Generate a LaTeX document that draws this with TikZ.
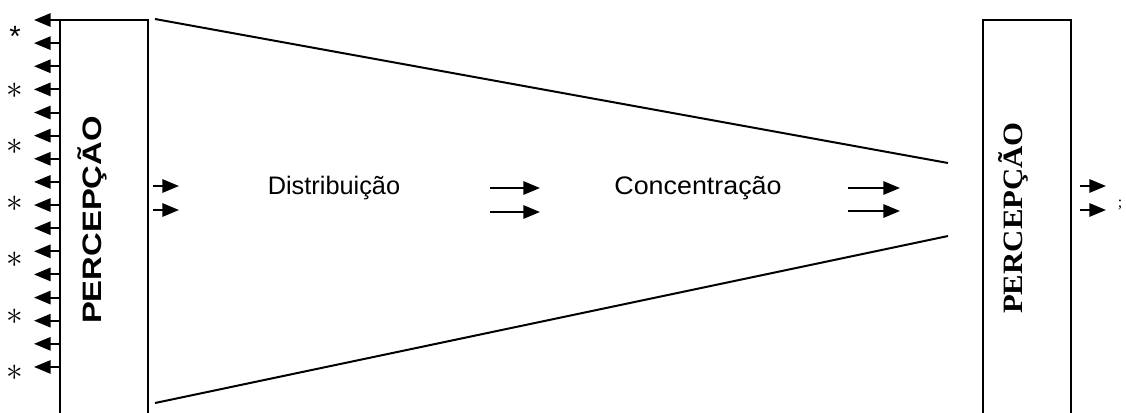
\documentclass[tikz,border=0pt]{standalone}
\usepackage{fontspec}
\setmainfont{Liberation Sans}
\newfontfamily\timesfont{Liberation Serif}
\usetikzlibrary{arrows.meta}
\begin{document}
\begin{tikzpicture}[x=0.75pt,y=-0.75pt,
  ln/.style={line width=1.5pt},
  arr/.style={line width=1.5pt,-{Triangle[length=12.5pt,width=10pt]}},
  box/.style={draw,line width=1.5pt,minimum width=66pt,minimum height=310pt,anchor=north west,inner sep=0pt},
  lbl/.style={font=\fontsize{19}{22}\selectfont,anchor=base},
  star/.style={font=\fontsize{28}{30}\selectfont,inner sep=0pt}]
\useasboundingbox (0,0) rectangle (1126,412);
% boxes
\node[box] (L) at (59,19) {};
\node[box] (R) at (982,19) {};
\node[font=\fontsize{20}{22}\selectfont\bfseries,rotate=90] (Lt) at (92,220) {\scalebox{1.23}[1]{PERCEPÇÃO}};
\node[font=\timesfont\fontsize{21}{23}\selectfont\bfseries,rotate=90] (Rt) at (1013,218) {\scalebox{1.1}[1]{PERCEPÇÃO}};
% left arrows
\foreach \i in {0,...,15}{
  \coordinate (ls\i) at (59,{20+23.13*\i});
  \coordinate (le\i) at (34,{20+23.13*\i});
  \draw[arr] (ls\i) -- (le\i);
}
% asterisks
\node[inner sep=0pt,font=\fontsize{22}{24}\selectfont] (s0) at (15,36) {*};
\foreach \i in {1,...,6}{
  \node[star] (s\i) at (15,{34+56.5*\i}) {$\ast$};
}
% funnel lines
\coordinate (t1) at (155,19); \coordinate (t2) at (948,163);
\coordinate (b1) at (155,403); \coordinate (b2) at (948,236);
\draw[ln] (t1) -- (t2);
\draw[ln] (b1) -- (b2);
% labels
\node[lbl] (dist) at (334,194) {Distribuição};
\node[lbl] (conc) at (698,194) {\scalebox{1.06}[1]{Concentração}};
% middle arrows
\coordinate (a1) at (153,186); \coordinate (a2) at (179,186);
\coordinate (a3) at (153,210); \coordinate (a4) at (179,210);
\draw[arr] (a1) -- (a2); \draw[arr] (a3) -- (a4);
\coordinate (c1) at (490,188); \coordinate (c2) at (540,188);
\coordinate (c3) at (490,212); \coordinate (c4) at (540,212);
\draw[arr] (c1) -- (c2); \draw[arr] (c3) -- (c4);
\coordinate (d1) at (848,188); \coordinate (d2) at (900,188);
\coordinate (d3) at (848,211); \coordinate (d4) at (900,211);
\draw[arr] (d1) -- (d2); \draw[arr] (d3) -- (d4);
\coordinate (e1) at (1080,186); \coordinate (e2) at (1106,186);
\coordinate (e3) at (1080,210); \coordinate (e4) at (1106,210);
\draw[arr] (e1) -- (e2); \draw[arr] (e3) -- (e4);
% small mark at right edge
\node[font=\timesfont\fontsize{12}{13}\selectfont,inner sep=0pt] (m) at (1120,205) {;};
\end{tikzpicture}
\end{document}
